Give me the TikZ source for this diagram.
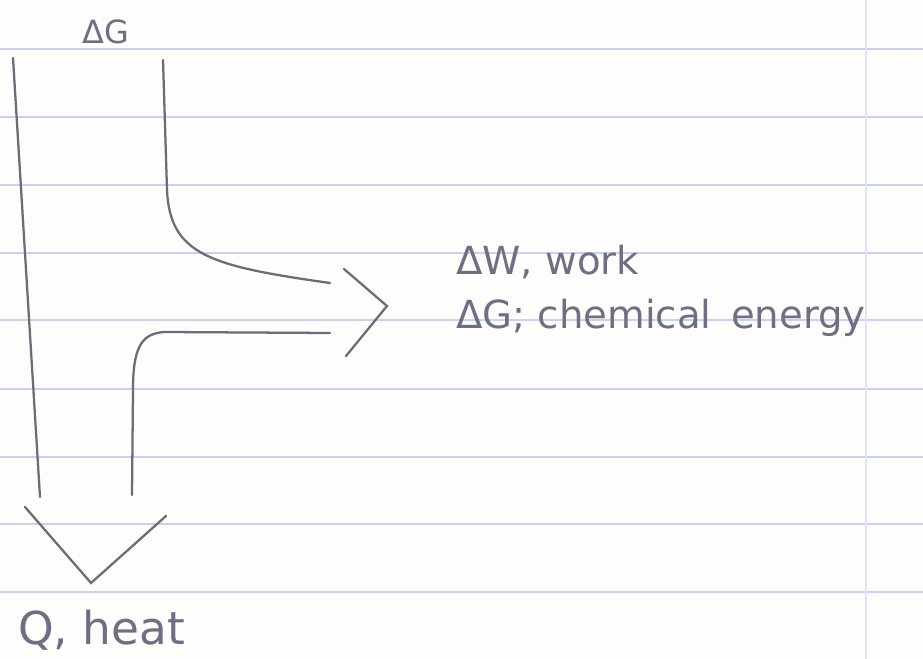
\documentclass[tikz,border=0pt]{standalone}
\usepackage{fontspec}
\setmainfont{DejaVu Sans}
\usepackage{tikz}
\usetikzlibrary{positioning,calc}
\definecolor{paper}{HTML}{FDFDFB}
\definecolor{ruling}{HTML}{C9D1F0}
\definecolor{pencil}{HTML}{6C6C78}
\definecolor{penink}{HTML}{6E6E84}
\tikzset{
  rule/.style={draw=ruling, line width=1.1pt},
  flow/.style={draw=pencil, line width=1.7pt, line cap=round, line join=round},
  tip/.style={draw=pencil, line width=1.7pt, line cap=round, line join=miter},
  hand/.style={text=penink, inner sep=0pt, anchor=west, font=\fontsize{#1}{#1}\selectfont},
}

\begin{document}
\begin{tikzpicture}[x=0.75pt, y=-0.75pt]
    \useasboundingbox[fill=paper] (0,0) rectangle (923,659);
    % ruled paper
    \foreach \ry in {49,117,185,253,320,389,457,524,592}
      \draw[rule] (0,\ry) -- (923,\ry);
    \draw[draw=ruling!60, line width=0.8pt] (866,0) -- (866,659);

    % incoming free energy band
    \node[hand=24, anchor=center] (dg) at (106,32) {ΔG};
    \draw[flow] (13,58) -- (40,497);
    \draw[flow] (163,60) -- (167,190) .. controls (170,255) and (210,266) .. (330,283);
    \draw[flow] (330,333) -- (165,332) .. controls (140,333) and (133,350) .. (133,390) -- (132,495);

    % arrow heads
    \draw[tip] (344,269) -- (387,306) -- (346,356);
    \draw[tip] (25,507) -- (91,583) -- (166,516);

    % labels
    \node[hand=29] (work) at (456,262) {ΔW, work};
    \node[hand=29] (chem) at (456,318) {ΔG; chemical\enspace energy};
    \node[hand=34] (heat) at (18,630) {Q, heat};
\end{tikzpicture}
\end{document}
